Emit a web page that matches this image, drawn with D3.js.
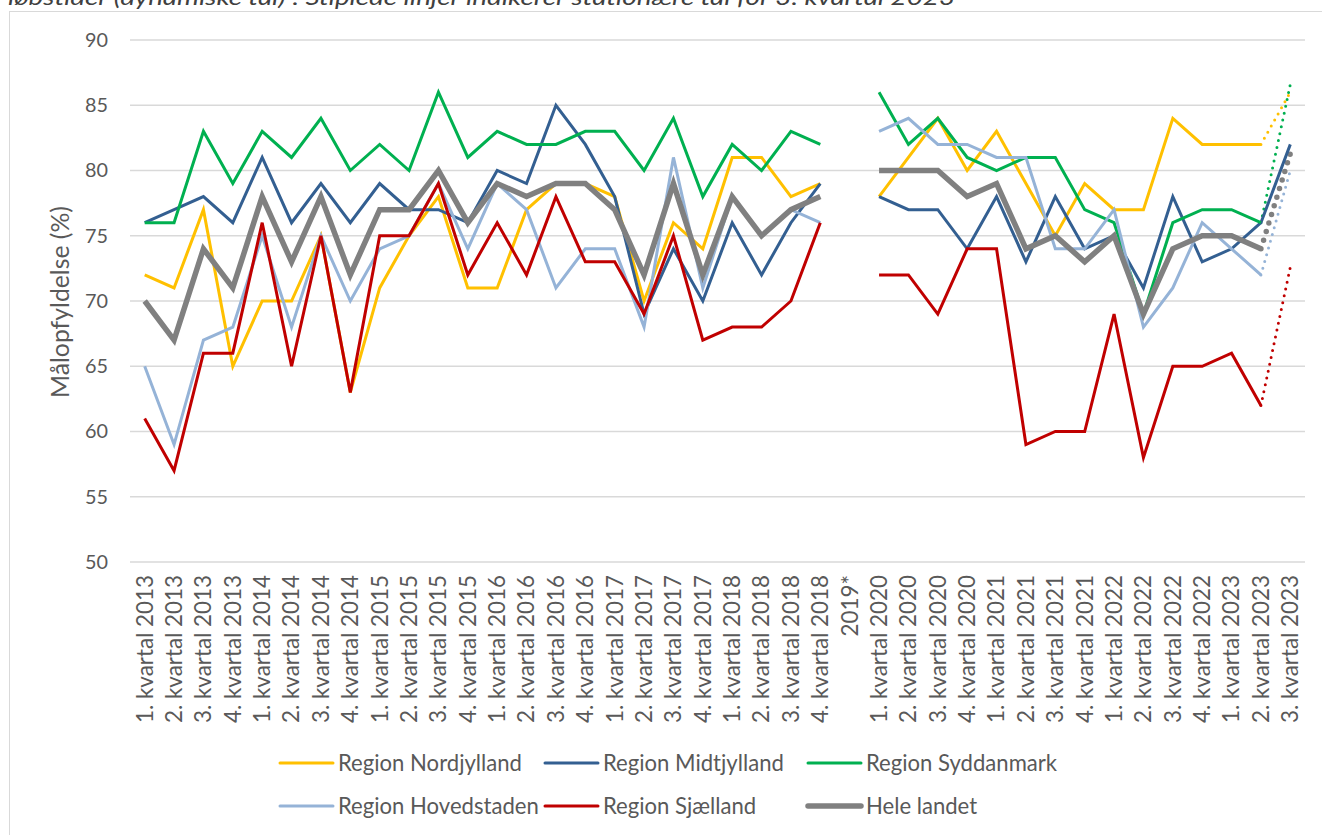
<!DOCTYPE html>
<html lang="da">
<head>
<meta charset="UTF-8">
<title>Målopfyldelse</title>
<script src="https://d3js.org/d3.v7.min.js"></script>
<style>
  body { margin: 0; background: #fff; }
  svg text { font-family: Lato, "Open Sans", sans-serif; fill: #595959; }
</style>
</head>
<body>
<script>
  var categories = [
    "1. kvartal 2013", "2. kvartal 2013", "3. kvartal 2013", "4. kvartal 2013",
    "1. kvartal 2014", "2. kvartal 2014", "3. kvartal 2014", "4. kvartal 2014",
    "1. kvartal 2015", "2. kvartal 2015", "3. kvartal 2015", "4. kvartal 2015",
    "1. kvartal 2016", "2. kvartal 2016", "3. kvartal 2016", "4. kvartal 2016",
    "1. kvartal 2017", "2. kvartal 2017", "3. kvartal 2017", "4. kvartal 2017",
    "1. kvartal 2018", "2. kvartal 2018", "3. kvartal 2018", "4. kvartal 2018",
    "2019*",
    "1. kvartal 2020", "2. kvartal 2020", "3. kvartal 2020", "4. kvartal 2020",
    "1. kvartal 2021", "2. kvartal 2021", "3. kvartal 2021", "4. kvartal 2021",
    "1. kvartal 2022", "2. kvartal 2022", "3. kvartal 2022", "4. kvartal 2022",
    "1. kvartal 2023", "2. kvartal 2023", "3. kvartal 2023"
  ];

  var yTicks = [50, 55, 60, 65, 70, 75, 80, 85, 90];

  // dynamiske tal pr. kvartal (null = intet tal)
  var nordjylland = [72,71,77,65,70,70,75,63,71,75,78,71,71,77,79,79,78,70,76,74,81,81,78,79,null,
    78,81,84,80,83,79,75,79,77,77,84,82,82,82,null];
  var midtjylland = [76,77,78,76,81,76,79,76,79,77,77,76,80,79,85,82,78,69,74,70,76,72,76,79,null,
    78,77,77,74,78,73,78,74,75,71,78,73,74,76,82];
  var syddanmark = [76,76,83,79,83,81,84,80,82,80,86,81,83,82,82,83,83,80,84,78,82,80,83,82,null,
    86,82,84,81,80,81,81,77,76,69,76,77,77,76,null];
  var hovedstaden = [65,59,67,68,75,68,75,70,74,75,79,74,79,77,71,74,74,68,81,71,78,75,77,76,null,
    83,84,82,82,81,81,74,74,77,68,71,76,74,72,null];
  var sjaelland = [61,57,66,66,76,65,75,63,75,75,79,72,76,72,78,73,73,69,75,67,68,68,70,76,null,
    72,72,69,74,74,59,60,60,69,58,65,65,66,62,null];
  var heleLandet = [70,67,74,71,78,73,78,72,77,77,80,76,79,78,79,79,77,72,79,72,78,75,77,78,null,
    80,80,80,78,79,74,75,73,75,69,74,75,75,74,null];

  // stationære tal for 3. kvartal 2023 (stiplede linjer)
  var stationaer = {
    nordjylland: 86,
    syddanmark: 86.6,
    hovedstaden: 80,
    sjaelland: 72.6,
    heleLandet: 81.3
  };

  var series = [
    { key: "nordjylland", name: "Region Nordjylland", values: nordjylland, color: "#FFC000", w: 3 },
    { key: "midtjylland", name: "Region Midtjylland", values: midtjylland, color: "#335F91", w: 3 },
    { key: "syddanmark", name: "Region Syddanmark", values: syddanmark, color: "#00B050", w: 3 },
    { key: "hovedstaden", name: "Region Hovedstaden", values: hovedstaden, color: "#95B3D7", w: 3 },
    { key: "sjaelland", name: "Region Sjælland", values: sjaelland, color: "#C00000", w: 3 },
    { key: "heleLandet", name: "Hele landet", values: heleLandet, color: "#808080", w: 5.5 }
  ];

  var width = 1322, height = 835;
  var plot = { left: 130, right: 1305, top: 40, bottom: 562 };

  var svg = d3.select("body").append("svg")
    .attr("width", width)
    .attr("height", height);

  // finder en skriftstørrelse, så en prøvetekst får den ønskede bredde
  function fitSize(sample, target) {
    var t = svg.append("text").style("font-size", "20px").text(sample);
    var w = t.node().getComputedTextLength();
    t.remove();
    return (20 * target / w).toFixed(2) + "px";
  }
  var xTickSize = fitSize("1. kvartal 2013", 148);
  var yTickSize = fitSize("90", 23);
  var titleSize = fitSize("Målopfyldelse (%)", 192);
  var legendSize = fitSize("Region Nordjylland", 184);

  // ramme
  svg.append("rect")
    .attr("x", 9.5).attr("y", 11.5)
    .attr("width", width).attr("height", height)
    .attr("fill", "none")
    .attr("stroke", "#d9d9d9");

  // afskåret titel
  svg.append("text")
    .attr("x", 8).attr("y", 5)
    .style("font-size", "21px")
    .style("font-style", "italic")
    .style("fill", "#404040")
    .attr("textLength", 947)
    .attr("lengthAdjust", "spacingAndGlyphs")
    .text("løbstider (dynamiske tal)\". Stiplede linjer indikerer stationære tal for 3. kvartal 2023");

  var x = d3.scaleBand()
    .domain(categories)
    .range([plot.left, plot.right]);

  var y = d3.scaleLinear()
    .domain([50, 90])
    .range([plot.bottom, plot.top]);

  var cx = d => x(d) + x.bandwidth() / 2;

  // gitterlinjer
  svg.append("g")
    .selectAll("line")
    .data(yTicks)
    .join("line")
    .attr("x1", plot.left).attr("x2", plot.right)
    .attr("y1", d => y(d)).attr("y2", d => y(d))
    .attr("stroke", "#d9d9d9")
    .attr("stroke-width", 1.3);

  // y-akse
  var yAxis = svg.append("g")
    .attr("transform", `translate(${plot.left - 22},0)`)
    .call(d3.axisLeft(y).tickValues(yTicks).tickSize(0).tickPadding(0));
  yAxis.select(".domain").remove();
  yAxis.selectAll("text")
    .style("font-size", yTickSize)
    .style("fill", "#595959")
    .style("font-family", "Lato, sans-serif");

  svg.append("text")
    .attr("transform", `translate(69,${(plot.top + plot.bottom) / 2 + 1}) rotate(-90)`)
    .attr("text-anchor", "middle")
    .style("font-size", titleSize)
    .text("Målopfyldelse (%)");

  // x-akse
  var xAxis = svg.append("g")
    .attr("transform", `translate(0,${plot.bottom})`)
    .call(d3.axisBottom(x).tickSize(0).tickPadding(0));
  xAxis.select(".domain").remove();
  xAxis.selectAll("text")
    .attr("transform", "rotate(-90)")
    .attr("text-anchor", "end")
    .attr("x", -13)
    .attr("y", 0)
    .attr("dy", "0.35em")
    .style("font-size", xTickSize)
    .style("fill", "#595959")
    .style("font-family", "Lato, sans-serif");

  var line = d3.line()
    .defined(d => d != null)
    .x((d, i) => cx(categories[i]))
    .y(d => y(d));

  // stiplede linjer fra 2. kvartal 2023 til stationært 3. kvartal 2023
  var last = categories.length - 1;
  series.forEach(s => {
    if (stationaer[s.key] == null) return;
    var p = [[cx(categories[last - 1]), y(s.values[last - 1])],
             [cx(categories[last]), y(stationaer[s.key])]];
    svg.append("path")
      .attr("d", d3.line()(p))
      .attr("fill", "none")
      .attr("stroke", s.color)
      .attr("stroke-width", s.w)
      .attr("stroke-linecap", "round")
      .attr("stroke-dasharray", s.w > 4 ? "0 9" : "0 7");
  });

  series.forEach(s => {
    svg.append("path")
      .datum(s.values)
      .attr("d", line)
      .attr("fill", "none")
      .attr("stroke", s.color)
      .attr("stroke-width", s.w)
      .attr("stroke-linejoin", "miter");
  });

  // legende
  var legendX = [280, 545, 808];
  var legendY = [763, 806];
  var legend = svg.append("g");
  series.forEach((s, i) => {
    var lx = legendX[i % 3], ly = legendY[Math.floor(i / 3)];
    legend.append("line")
      .attr("x1", lx).attr("x2", lx + 53)
      .attr("y1", ly).attr("y2", ly)
      .attr("stroke", s.color)
      .attr("stroke-width", s.w)
      .attr("stroke-linecap", "round");
    legend.append("text")
      .attr("x", lx + 58).attr("y", ly)
      .attr("dy", "0.35em")
      .style("font-size", legendSize)
      .text(s.name);
  });
</script>
</body>
</html>
